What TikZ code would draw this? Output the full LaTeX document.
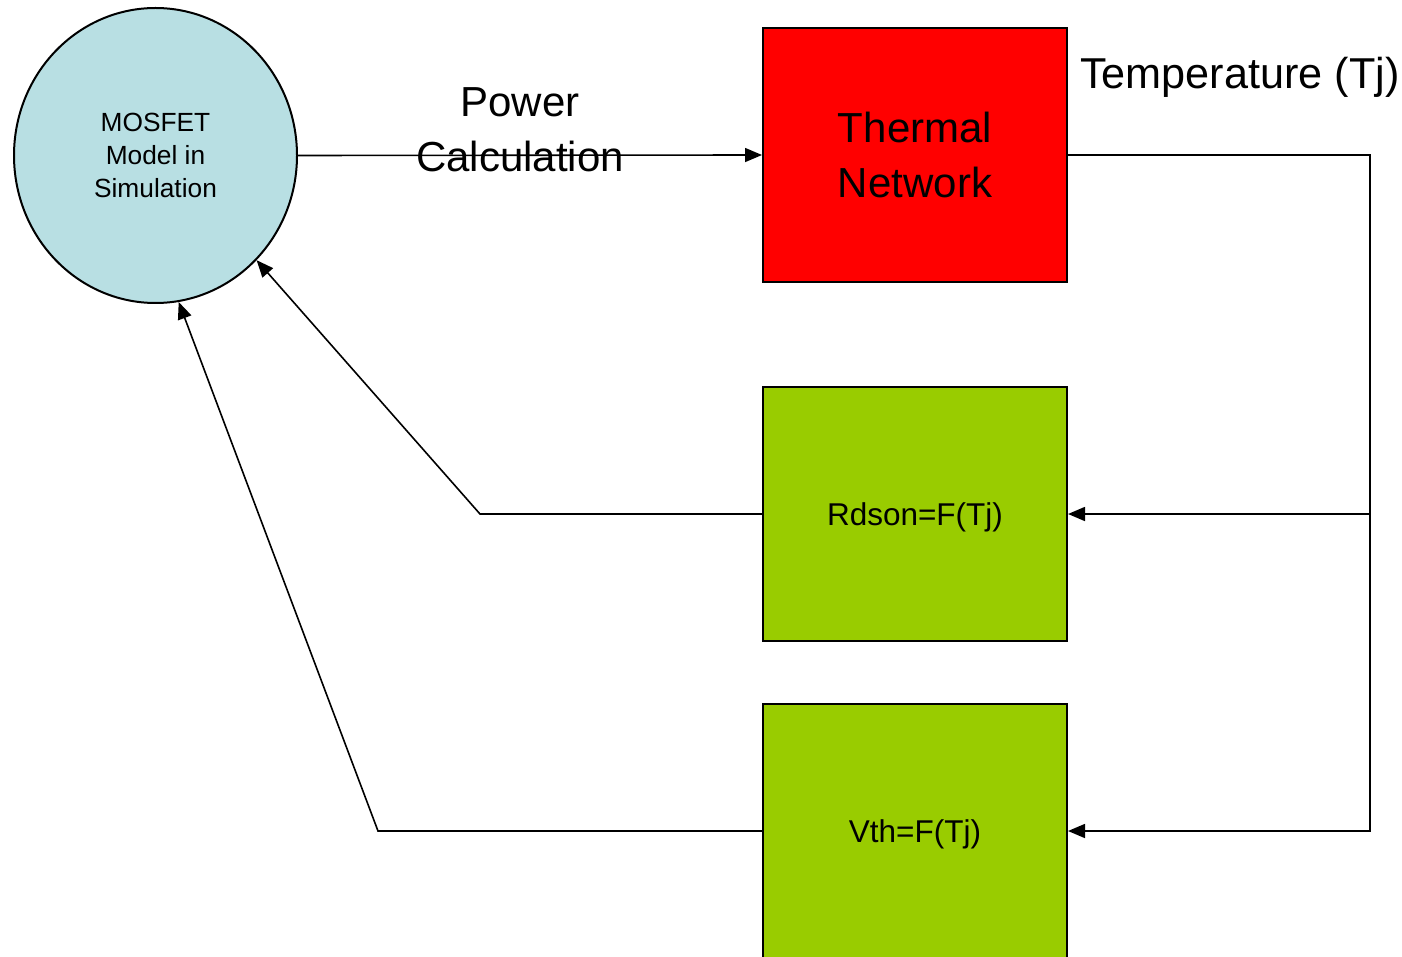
\documentclass[tikz,border=0pt]{standalone}
\usepackage{fontspec}
\setmainfont{Liberation Sans}
\usetikzlibrary{arrows.meta,shapes.geometric}
\definecolor{mosblue}{RGB}{184,223,227}
\definecolor{boxgreen}{RGB}{153,204,0}
\begin{document}
\begin{tikzpicture}[x=1pt,y=-1pt,
  conn/.style={line width=1.6pt,-{Triangle[length=17pt,width=14pt]}},
  plain/.style={line width=1.6pt},
  blockbox/.style={draw,line width=2pt,minimum width=304pt,minimum height=254pt,inner sep=0pt},
  biglabel/.style={font=\fontsize{42}{55}\selectfont,align=center,inner sep=0pt}]
\useasboundingbox (0,0) rectangle (1402,957);
\clip (0,0) rectangle (1402,957);

% MOSFET model
\node[ellipse,draw,line width=2pt,fill=mosblue,minimum width=283pt,minimum height=295pt,
      inner sep=0pt,align=center,font=\fontsize{26.3}{33}\selectfont] (mos) at (155.5,155.5)
  {MOSFET\\Model in\\Simulation};

% blocks
\node[blockbox,fill=red,font=\fontsize{42}{55}\selectfont,align=center] (therm) at (915,155) {Thermal\\Network};
\node[blockbox,fill=boxgreen,font=\fontsize{31.5}{38}\selectfont] (rds) at (915,514)
  {\raisebox{-3pt}[\height][\depth]{Rdson=F(Tj)}};
\node[blockbox,fill=boxgreen,font=\fontsize{31.5}{38}\selectfont] (vth) at (915,831)
  {\raisebox{-3pt}[\height][\depth]{Vth=F(Tj)}};

% power path
\draw[conn] (mos.east) -- (therm.west);
\node[biglabel] (pw) at (520,130) {Power\\Calculation};

% temperature feedback
\coordinate (tr) at (1370,155);
\coordinate (j1) at (tr |- rds.east);
\coordinate (j2) at (tr |- vth.east);
\draw[plain] (therm.east) -- (tr) -- (j1);
\draw[conn] (j1) -- (j2) -- (vth.east);
\draw[conn] (j1) -- (rds.east);
\node[font=\fontsize{43.2}{55}\selectfont,inner sep=0pt,anchor=west] (temp) at (1080,77) {Temperature (Tj)};

% parameter feedback into the model
\coordinate (rb) at (480,514);
\coordinate (vb) at (378,831);
\draw[conn] (rds.west) -- (rb) -- (mos.-46);
\draw[conn] (vth.west) -- (vb) -- (mos.-81);
\end{tikzpicture}
\end{document}
